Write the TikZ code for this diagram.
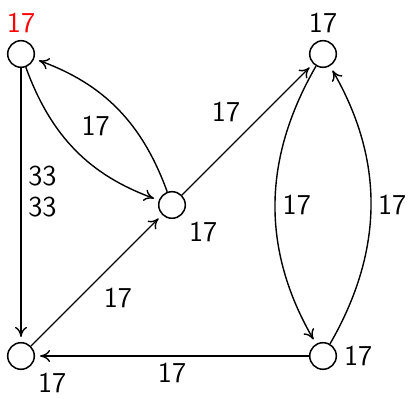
\documentclass[tikz,border=0pt]{standalone}
\usetikzlibrary{arrows.meta}

\begin{document}
\begin{tikzpicture}[x=0.5pt, y=0.5pt,
  every node/.style={font=\Large\sffamily},
  vertex/.style={draw, circle, line width=0.75pt, minimum size=13.3pt, inner sep=0pt},
  flow/.style={-{To[length=5pt,width=6pt]}, line width=0.7pt, shorten >=2.5pt}
]
  \useasboundingbox (0,0) rectangle (410,399);

  \node[vertex, label={[red]above:17}] (tl) at (21,345) {};
  \node[vertex, label={above:17}] (tr) at (323,345) {};
  \node[vertex, label={below right:17}] (c) at (172,194) {};
  \node[vertex, label={below right:17}] (bl) at (21,43) {};
  \node[vertex, label={right:17}] (br) at (323,43) {};

  \draw[flow] (tl) -- (bl) node[pos=0.45, right, align=left] {33\\[-2.5pt]33};
  \draw[flow] (tl) to[bend right=25] (c);
  \draw[flow] (c) to[bend right=25] node[midway, below left] {17} (tl);
  \draw[flow] (c) -- (tr) node[midway, above left] {17};
  \draw[flow] (bl) -- (c) node[midway, below right] {17};
  \draw[flow] (br) -- (bl) node[midway, below] {17};
  \draw[flow] (tr) to[bend right=30] node[midway, right] {17} (br);
  \draw[flow] (br) to[bend right=30] node[midway, right] {17} (tr);
\end{tikzpicture}
\end{document}
